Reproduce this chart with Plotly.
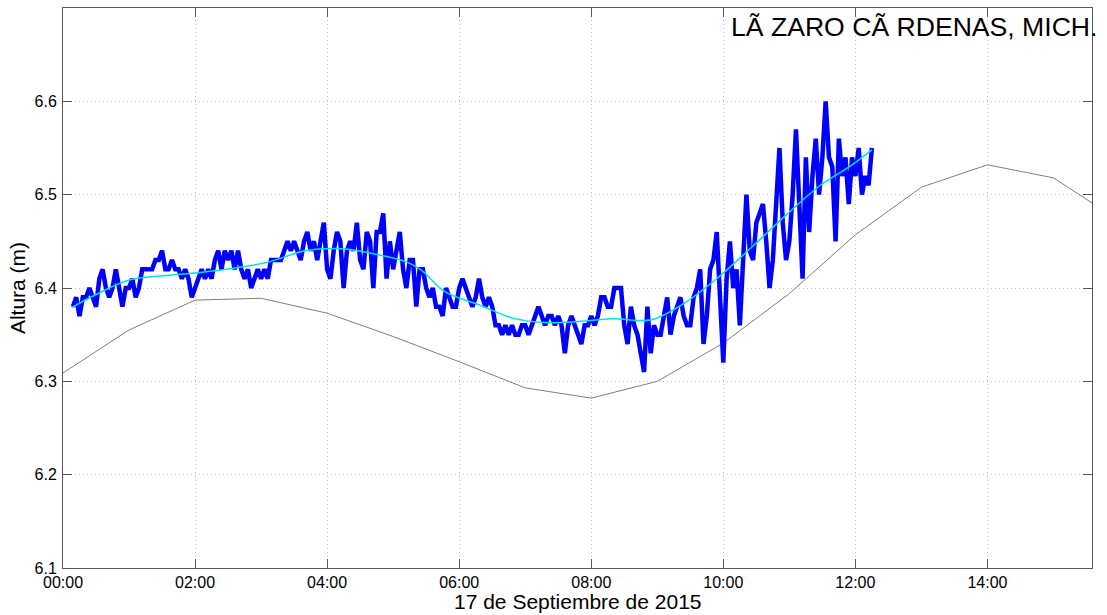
#Nivel del mar en Lazaro Cardenas, 17 de septiembre de 2015

import pandas as pd
import plotly.graph_objs as go

fecha = pd.Timestamp("2015-09-17")

# observado (azul), una lectura cada 3 minutos desde 00:09
obs_inicio = 9
obs_paso = 3
obs_00_03 = [6.38, 6.39, 6.37, 6.39, 6.39, 6.40, 6.39, 6.38, 6.41, 6.42,
             6.40, 6.39, 6.40, 6.42, 6.40, 6.38, 6.40, 6.40, 6.41, 6.39,
             6.40, 6.42, 6.42, 6.42, 6.42, 6.43, 6.43, 6.44, 6.42, 6.42,
             6.43, 6.42, 6.42, 6.41, 6.42, 6.41, 6.39, 6.40, 6.41, 6.42,
             6.41, 6.42, 6.41, 6.43, 6.44, 6.42, 6.44, 6.43, 6.44, 6.42,
             6.44, 6.42, 6.41, 6.42, 6.40, 6.41, 6.42, 6.41]
obs_03_06 = [6.42, 6.41, 6.43, 6.43, 6.43, 6.43, 6.44, 6.45, 6.44, 6.45,
             6.44, 6.43, 6.45, 6.46, 6.44, 6.45, 6.43, 6.45, 6.47, 6.42,
             6.41, 6.44, 6.46, 6.45, 6.40, 6.44, 6.45, 6.44, 6.47, 6.43,
             6.42, 6.46, 6.45, 6.40, 6.46, 6.46, 6.48, 6.41, 6.45, 6.42,
             6.44, 6.46, 6.42, 6.40, 6.43, 6.43, 6.38, 6.42, 6.42, 6.40,
             6.39, 6.40, 6.38, 6.38, 6.37, 6.40, 6.39, 6.38]
obs_06_09 = [6.38, 6.40, 6.41, 6.40, 6.39, 6.38, 6.39, 6.41, 6.39, 6.38,
             6.39, 6.38, 6.36, 6.36, 6.35, 6.36, 6.35, 6.36, 6.35, 6.35,
             6.36, 6.36, 6.35, 6.36, 6.37, 6.38, 6.37, 6.36, 6.37, 6.37,
             6.36, 6.37, 6.36, 6.33, 6.36, 6.37, 6.36, 6.35, 6.34, 6.36,
             6.36, 6.37, 6.36, 6.37, 6.39, 6.39, 6.38, 6.38, 6.40, 6.40,
             6.40, 6.36, 6.34, 6.38, 6.36, 6.35, 6.33, 6.31]
obs_09_12 = [6.38, 6.33, 6.36, 6.35, 6.35, 6.37, 6.39, 6.35, 6.37, 6.38,
             6.39, 6.37, 6.36, 6.36, 6.39, 6.40, 6.42, 6.34, 6.37, 6.42,
             6.43, 6.46, 6.38, 6.32, 6.41, 6.45, 6.40, 6.42, 6.36, 6.44,
             6.50, 6.44, 6.43, 6.47, 6.48, 6.49, 6.45, 6.40, 6.43, 6.50,
             6.55, 6.47, 6.43, 6.45, 6.50, 6.57, 6.50, 6.41, 6.54, 6.46,
             6.52, 6.56, 6.50, 6.54, 6.60, 6.54, 6.53, 6.45, 6.56, 6.52,
             6.54, 6.49, 6.54, 6.52, 6.55, 6.50, 6.52, 6.51, 6.55]

# filtrado (cian)
filt_min = [8, 30, 62, 120, 184, 220, 254, 281, 312, 326, 347, 378, 408, 438,
            468, 499, 535, 565, 596, 626, 656, 687, 717, 735]
filt_val = [6.379, 6.393, 6.409, 6.416, 6.427, 6.440, 6.442, 6.437, 6.428,
            6.419, 6.396, 6.382, 6.368, 6.363, 6.364, 6.367, 6.366, 6.384,
            6.412, 6.444, 6.477, 6.509, 6.532, 6.548]

# prediccion horaria (gris)
pred_hora = list(range(0, 17))
pred_val = [6.309, 6.355, 6.387, 6.389, 6.373, 6.348, 6.321, 6.293, 6.282,
            6.300, 6.341, 6.394, 6.457, 6.508, 6.532, 6.518, 6.472]

titulo = "LÃ ZARO CÃ RDENAS, MICH."

obs = obs_00_03 + obs_03_06 + obs_06_09 + obs_09_12
obs_t = [fecha + pd.Timedelta(minutes=obs_inicio + obs_paso * i) for i in range(len(obs))]
filt_t = [fecha + pd.Timedelta(minutes=m) for m in filt_min]
pred_t = [fecha + pd.Timedelta(hours=h) for h in pred_hora]

fuente = "Liberation Sans, Arial, sans-serif"

fig = go.Figure()
fig.add_trace(go.Scatter(x=pred_t, y=pred_val, mode='lines',
                         line=dict(color='#7f7f7f', width=1)))
fig.add_trace(go.Scatter(x=obs_t, y=obs, mode='lines',
                         line=dict(color='#0000ff', width=4.5)))
fig.add_trace(go.Scatter(x=filt_t, y=filt_val, mode='lines',
                         line=dict(color='#00e0f0', width=1.5, shape='spline')))

eje = dict(showline=True, linecolor='#595959', linewidth=1, mirror='allticks',
           ticks='inside', ticklen=9, tickcolor='#595959',
           showgrid=True, gridcolor='#c4c4c4', griddash='1px,3px', gridwidth=1,
           zeroline=False, tickfont=dict(family=fuente, size=16, color='black'))

fig.update_layout(
    width=1107, height=615,
    margin=dict(l=63, r=15, t=8, b=47),
    paper_bgcolor='white', plot_bgcolor='white',
    showlegend=False,
    font=dict(family=fuente, color='black'),
    xaxis=dict(eje, type='date', tickformat='%H:%M', dtick=2 * 3600000,
               range=[fecha, fecha + pd.Timedelta(minutes=935)]),
    yaxis=dict(eje, range=[6.1, 6.7], tickvals=[6.1, 6.2, 6.3, 6.4, 6.5, 6.6],
               ticktext=['6.1', '6.2', '6.3', '6.4', '6.5', '6.6'],
               ticklabelstandoff=2,
               title=dict(text="Altura (m)", standoff=3,
                          font=dict(family=fuente, size=21))),
    annotations=[
        dict(text=titulo, x=1, y=0.966, xref='paper', yref='paper', xshift=7,
             xanchor='right', yanchor='middle', showarrow=False,
             font=dict(family=fuente, size=26.6, color='black')),
        dict(text="17 de Septiembre de 2015", x=0.5, y=-0.059, xref='paper',
             yref='paper', xanchor='center', yanchor='middle', showarrow=False,
             font=dict(family=fuente, size=21, color='black')),
    ],
)

#fig.show()
fig.write_html("out.html", config={'displayModeBar': False},
               post_script="document.body.style.margin='0';")
